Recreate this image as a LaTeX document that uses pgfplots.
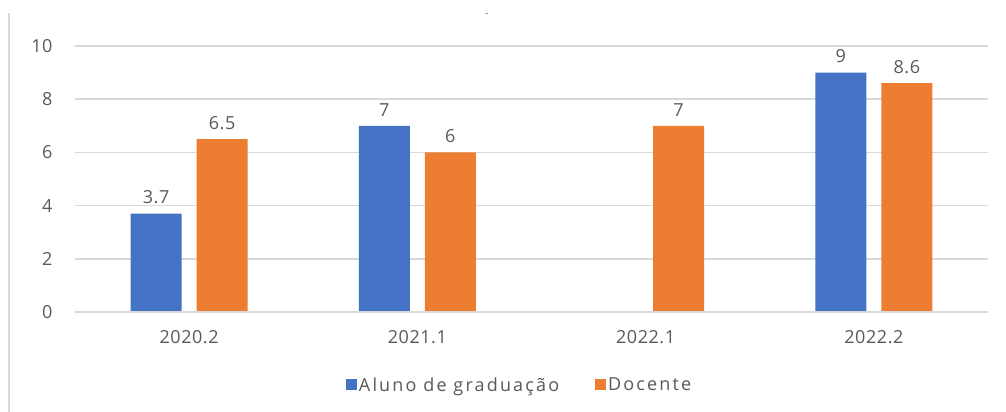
\documentclass[border=0pt]{standalone}
\usepackage{fontspec}
\setmainfont{Open Sans}
\usepackage{pgfplots}
\pgfplotsset{compat=1.18}
\definecolor{cblue}{HTML}{4472C4}
\definecolor{corange}{HTML}{ED7D31}
\definecolor{tgray}{HTML}{595959}
\definecolor{ggray}{HTML}{D9D9D9}
\begin{document}
\begin{tikzpicture}
\useasboundingbox (-75pt,-100pt) rectangle (931pt,312pt);
\draw[ggray, line width=2pt] (-66pt,-100pt) -- (-66pt,299pt);
\begin{axis}[
  scale only axis,
  width=913pt, height=266pt,
  xmin=-0.5, xmax=3.5, ymin=0, ymax=10,
  ytick={0,2,4,6,8,10},
  xtick={0,1,2,3},
  xticklabels={2020.2,2021.1,2022.1,2022.2},
  axis line style={draw=none},
  axis x line*=bottom,
  ymajorgrids,
  grid style={ggray, line width=1.5pt},
  major tick length=0pt,
  tick label style={font=\fontsize{18}{21}\selectfont\addfontfeature{LetterSpace=3}, text=tgray},
  /pgf/number format/assume math mode=true,
  yticklabel style={xshift=-19pt},
  xticklabel style={yshift=-15pt},
  ybar,
  bar width=51pt,
  nodes near coords,
  every node near coord/.append style={font=\fontsize{18}{21}\selectfont\addfontfeature{LetterSpace=3}, text=tgray, yshift=6pt},
  legend style={at={(0.487,-0.23)}, anchor=north, draw=none, legend columns=2,
    font=\fontsize{18}{21}\selectfont\addfontfeature{LetterSpace=12}, text=tgray,
    /tikz/every even column/.append style={column sep=34pt}},
  legend image code/.code={\fill[#1] (-3pt,-5.5pt) rectangle (8pt,5.5pt);},
  clip=false,
]
\addplot[fill=cblue, draw=none, bar shift=-33pt] coordinates {(0,3.7) (1,7) (3,9)};
\addplot[fill=corange, draw=none, bar shift=33pt] coordinates {(0,6.5) (1,6) (2,7) (3,8.6)};
\legend{Aluno de graduação, Docente}
\draw[ggray, line width=1.5pt] (rel axis cs:0,0) -- (rel axis cs:1,0);
\node[text=tgray, font=\fontsize{10}{12}\selectfont] at (rel axis cs:0.4509,1.115) {-};
\end{axis}
\end{tikzpicture}
\end{document}
